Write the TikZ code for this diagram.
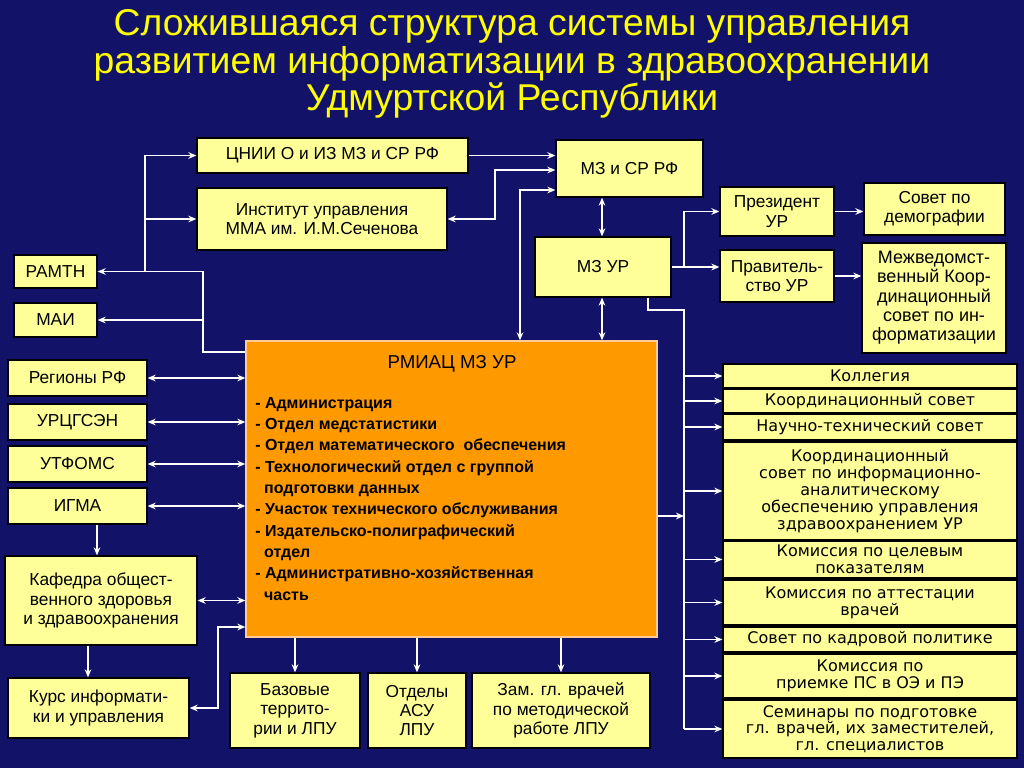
\documentclass[tikz,border=0pt]{standalone}
\usepackage{fontspec}
\setmainfont{Liberation Sans}
\newfontfamily\dvs{DejaVu Sans}
\usetikzlibrary{arrows.meta}
\definecolor{bg}{RGB}{18,18,105}
\definecolor{bxy}{RGB}{255,255,153}
\definecolor{orn}{RGB}{255,153,0}
\definecolor{ttl}{RGB}{255,255,0}
\newcommand\bx[6][]{\node[box,minimum width={(#4-#2)*0.75pt},minimum height={(#5-#3)*0.75pt},#1] (#6) at ({(#2+#4)/2},{(#3+#5)/2})}
\begin{document}
\begin{tikzpicture}[x=0.75pt,y=-0.75pt,
  box/.style={draw=black,line width=1pt,fill=bxy,align=center,inner sep=1pt,font=\fontsize{13}{14.5}\selectfont},
  rbox/.style={box,font=\dvs\fontsize{12}{12.6}\selectfont},
  arr/.style={draw=white,line width=1.1pt,-{Stealth[length=6pt,width=5pt]}},
  arrb/.style={draw=white,line width=1.1pt,{Stealth[length=6pt,width=5pt]}-{Stealth[length=6pt,width=5pt]}},
  ln/.style={draw=white,line width=1.1pt}]
\fill[bg] (0,0) rectangle (1024,768);
\useasboundingbox (0,0) rectangle (1024,768);
\node[text=ttl,align=center,font=\fontsize{28}{28}\selectfont] (title) at (512,64) {Сложившаяся структура системы управления\\развитием информатизации в здравоохранении\\Удмуртской Республики};
\bx{197}{138}{468}{173}{cnii}{ЦНИИ О и ИЗ МЗ и СР РФ};
\bx{556}{140}{703}{197}{mzrf}{МЗ и СР РФ};
\bx{197}{188}{447}{250}{inst}{Институт управления\\ММА им. И.М.Сеченова};
\bx{535}{237}{671}{297}{mzur}{МЗ УР};
\bx{14}{255}{97}{288}{ramtn}{РАМТН};
\bx{14}{303}{97}{337}{mai}{МАИ};
\bx{720}{187}{834}{236}{pres}{Президент\\УР};
\bx{864}{183}{1005}{235}{sdem}{Совет по\\демографии};
\bx{720}{250}{834}{302}{prav}{Правитель-\\ство УР};
\bx[rbox,font=\fontsize{13.5}{14.5}\selectfont]{862}{243}{1006}{353}{mvks}{Межведомст-\\венный Коор-\\динационный\\совет по ин-\\форматизации};
\bx[fill=orn,draw=orange!40!white]{246}{341}{657}{637}{rmiac}{};
\node[font=\fontsize{14}{16}\selectfont] (rt) at (452,364) {РМИАЦ МЗ УР};
\node[anchor=north west,align=left,inner sep=0pt,font=\bfseries\fontsize{12}{16}\selectfont] (rlist) at (255,397) {- Администрация\\- Отдел медстатистики\\- Отдел математического\ \ обеспечения\\- Технологический отдел с группой\\\ \ подготовки данных\\- Участок технического обслуживания\\- Издательско-полиграфический\\\ \ отдел\\- Административно-хозяйственная\\\ \ часть};
\bx{8}{360}{147}{396}{reg}{Регионы РФ};
\bx{8}{404}{147}{440}{urc}{УРЦГСЭН};
\bx{8}{446}{147}{482}{utf}{УТФОМС};
\bx{8}{488}{147}{524}{igma}{ИГМА};
\bx{5}{556}{197}{645}{kaf}{Кафедра общест-\\венного здоровья\\и здравоохранения};
\bx{8}{678}{189}{738}{kurs}{Курс информати-\\ки и управления};
\bx{230}{673}{360}{748}{baz}{Базовые\\террито-\\рии и ЛПУ};
\bx{368}{673}{466}{748}{asu}{Отделы\\АСУ\\ЛПУ};
\bx{472}{673}{650}{748}{zam}{Зам. гл. врачей\\по методической\\работе ЛПУ};
\bx[rbox]{723}{364}{1017}{388}{r1}{Коллегия};
\bx[rbox]{723}{389}{1017}{413}{r2}{Координационный совет};
\bx[rbox]{723}{414}{1017}{440}{r3}{Научно-технический совет};
\bx[rbox]{723}{442}{1017}{540}{r4}{Координационный\\совет по информационно-\\аналитическому\\обеспечению управления\\здравоохранением УР};
\bx[rbox]{723}{541}{1017}{578}{r5}{Комиссия по целевым\\показателям};
\bx[rbox]{723}{580}{1017}{625}{r6}{Комиссия по аттестации\\врачей};
\bx[rbox]{723}{627}{1017}{652}{r7}{Совет по кадровой политике};
\bx[rbox]{723}{654}{1017}{698}{r8}{Комиссия по\\приемке ПС в ОЭ и ПЭ};
\bx[rbox]{723}{700}{1017}{758}{r9}{Семинары по подготовке\\гл. врачей, их заместителей,\\гл. специалистов};
% connectors
\draw[arr] (cnii.east) -- (cnii.east -| mzrf.west);
\coordinate (a1) at (495,170);
\draw[arrb] (inst.east) -| (a1) -- (a1 -| mzrf.west);
\coordinate (a2) at (520,190);
\draw[arrb] (a2 |- rmiac.north) -- (a2) -- (a2 -| mzrf.west);
\coordinate (a3) at (602,0);
\draw[arrb] (a3 |- mzrf.south) -- (a3 |- mzur.north);
\draw[arrb] (a3 |- mzur.south) -- (a3 |- rmiac.north);
\coordinate (a4) at (684,0);
\draw[arr] (mzur.east) -- (mzur.east -| prav.west);
\draw[arr] (mzur.east -| a4) |- (pres.west);
\draw[arr] (pres.east) -- (pres.east -| sdem.west);
\draw[arr] (prav.east) -- (prav.east -| mvks.west);
\coordinate (b1) at (648,310);
\draw[ln] (b1 |- mzur.south) -- (b1) -- (b1 -| a4) -- (a4 |- r9.west);
\foreach \r in {r1,r2,r3,r4,r5,r6,r7,r8,r9} \draw[arr] (a4 |- \r.west) -- (\r.west);
\coordinate (c1) at (0,516);
\draw[arr] (rmiac.east |- c1) -- (a4 |- c1);
\coordinate (t) at (145,0);
\draw[arr] (t |- ramtn.east) |- (cnii.west);
\draw[arr] (t |- inst.west) -- (inst.west);
\coordinate (u) at (203,352);
\draw[arr] (u -| rmiac.west) -- (u) |- (ramtn.east);
\draw[arr] (u |- mai.east) -- (mai.east);
\foreach \n in {reg,urc,utf,igma} \draw[arrb] (\n.east) -- (\n.east -| rmiac.west);
\coordinate (v) at (97,0);
\draw[arr] (v |- igma.south) -- (v |- kaf.north);
\draw[arrb] (kaf.east) -- (kaf.east -| rmiac.west);
\coordinate (v2) at (88,0);
\draw[arr] (v2 |- kaf.south) -- (v2 |- kurs.north);
\coordinate (w) at (218,627);
\draw[arrb] (kurs.east) -| (w) -- (w -| rmiac.west);
\foreach \n in {baz,asu,zam} \draw[arr] (rmiac.south -| \n.north) -- (\n.north);
\end{tikzpicture}
\end{document}
